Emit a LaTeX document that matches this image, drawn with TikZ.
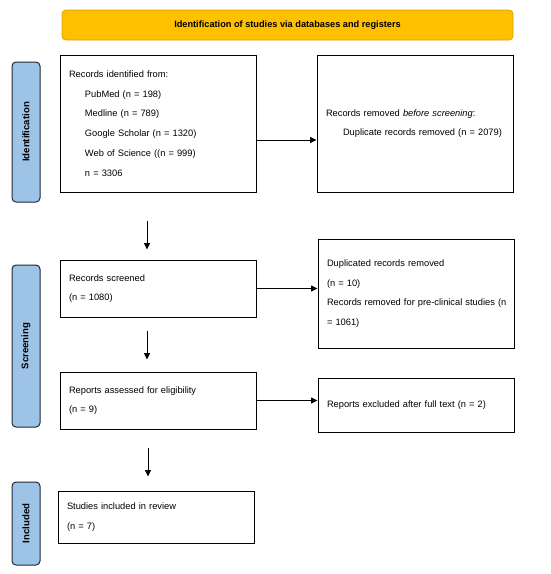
\documentclass[tikz,border=0pt]{standalone}
\usepackage{fontspec}
\setmainfont{Liberation Sans}
\usetikzlibrary{arrows.meta}
\definecolor{bannerfill}{HTML}{FFC000}
\definecolor{bannerdraw}{HTML}{D9A300}
\definecolor{barfill}{HTML}{9DC3E6}
\definecolor{bardraw}{HTML}{1F2A3A}
\tikzset{
  stagebar/.style={draw=bardraw, fill=barfill, line width=1pt, rounded corners=4pt,
    minimum width=28pt, inner sep=0pt},
  stagelabel/.style={rotate=90, font={\fontsize{9.6}{11}\selectfont\bfseries}},
  flowbox/.style={draw=black, line width=1pt, minimum width=196pt, text width=178pt,
    inner xsep=9pt, inner ysep=0pt, align=left,
    font={\fontsize{9.3}{19.7}\selectfont}},
  arr/.style={draw=black, line width=0.8pt, -{Triangle[length=6.5pt,width=6pt]}}
}
\begin{document}
\begin{tikzpicture}[x=1pt,y=-1pt]
\useasboundingbox (0,0) rectangle (550,574);
% banner
\node[draw=bannerdraw, fill=bannerfill, line width=0.8pt, rounded corners=4pt,
  minimum width=451pt, minimum height=30pt, inner sep=0pt,
  font={\fontsize{9.2}{11}\selectfont\bfseries}] (banner) at (287.5,25)
  {Identification of studies via databases and registers};
% stage bars
\node[stagebar, minimum height=140pt] (sid) at (26,132) {};
\node[stagelabel] (lid) at (sid.center) {Identification};
\node[stagebar, minimum height=162pt] (ssc) at (26,346) {};
\node[stagelabel] (lsc) at (ssc.center) {Screening};
\node[stagebar, minimum height=83pt] (sin) at (26,523.5) {};
\node[stagelabel] (lin) at (sin.center) {Included};
% boxes
\node[flowbox, minimum height=137pt] (b1) at (158,123.5) {Records identified from:\\
\hspace*{16pt}PubMed (n = 198)\\
\hspace*{16pt}Medline (n = 789)\\
\hspace*{16pt}Google Scholar (n = 1320)\\
\hspace*{16pt}Web of Science ((n = 999)\\
\hspace*{16pt}n = 3306};
\node[flowbox, minimum height=137pt] (b2) at (415,123.5) {Records removed \textit{before screening}:\\
\hspace*{17pt}Duplicate records removed (n = 2079)};
\node[flowbox, minimum height=57pt] (b3) at (158,288.5) {Records screened\\(n = 1080)};
\node[flowbox, minimum height=109pt] (b4) at (416,293.5) {Duplicated records removed\\
(n = 10)\\
\makebox[178pt][s]{Records removed for pre-clinical studies (n}\\
= 1061)};
\node[flowbox, minimum height=57pt] (b5) at (158,400.5) {Reports assessed for eligibility\\(n = 9)};
\node[flowbox, minimum height=54pt] (b6) at (416,405) {Reports excluded after full text (n = 2)};
\node[flowbox, minimum height=52pt] (b7) at (156,517) {Studies included in review\\(n = 7)};
% connectors
\draw[arr] ([yshift=-16.5pt]b1.east) -- ([yshift=-16.5pt]b2.west);
\draw[arr] (b3.east) -- (b3.east -| b4.west);
\draw[arr] (b5.east) -- (b5.east -| b6.west);
\draw[arr] ([xshift=-11pt,yshift=-28pt]b1.south) -- ([xshift=-11pt,yshift=10pt]b3.north);
\draw[arr] ([xshift=-11pt,yshift=-13pt]b3.south) -- ([xshift=-11pt,yshift=12pt]b5.north);
\draw[arr] ([xshift=-10pt,yshift=-18pt]b5.south) -- ([xshift=-8pt,yshift=14pt]b7.north);
\end{tikzpicture}
\end{document}
